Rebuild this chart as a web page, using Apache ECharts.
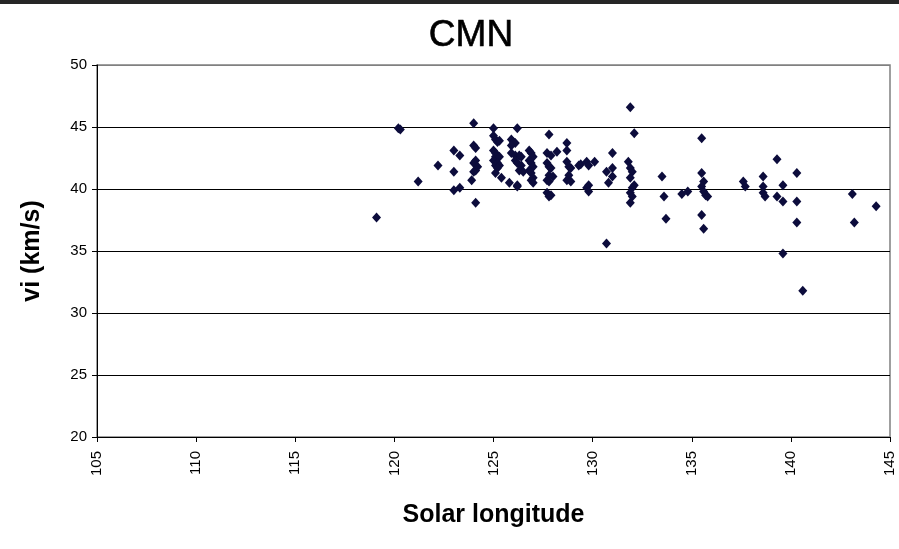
<!DOCTYPE html>
<html>
<head>
<meta charset="utf-8">
<script src="https://cdn.jsdelivr.net/npm/echarts@6/dist/echarts.min.js"></script>
<style>
html,body{margin:0;padding:0;background:#fff;}
#chart{width:899px;height:549px;}
</style>
</head>
<body>
<div id="chart"></div>
<script>
var titleText = "CMN";
var xAxisName = "Solar longitude";
var yAxisName = "vi (km/s)";
var xTicks = [105, 110, 115, 120, 125, 130, 135, 140, 145];
var yTicks = [20, 25, 30, 35, 40, 45, 50];

var solarLongitude = [
  119.1, 120.2, 120.3, 121.2, 122.2, 123.0, 123.3, 123.0, 123.0, 123.3,
  124.0, 124.0, 124.1, 124.1, 124.0, 124.2, 124.1, 124.0, 123.9, 124.1,
  125.0, 125.0, 125.1, 125.2, 125.3, 125.0, 125.1, 125.1, 125.3, 125.0,
  125.2, 125.1, 125.3, 125.2, 125.1, 125.4, 126.2, 125.9, 126.0, 126.1,
  125.9, 125.9, 126.1, 126.3, 126.4, 126.1, 126.2, 126.4, 126.3, 126.5,
  125.8, 126.2, 126.2, 126.8, 126.9, 127.0, 126.8, 126.9, 127.0, 126.8,
  126.9, 127.0, 126.9, 127.0, 127.8, 127.7, 127.9, 128.2, 127.7, 127.8,
  127.9, 127.8, 128.0, 127.7, 127.8, 127.7, 127.9, 127.8, 128.7, 128.7,
  128.7, 128.8, 128.9, 128.8, 128.7, 128.9, 129.3, 129.4, 129.7, 129.8,
  130.1, 129.8, 129.7, 129.8, 131.0, 130.7, 131.0, 131.0, 130.8, 130.7,
  131.9, 132.1, 131.8, 131.9, 132.0, 131.9, 132.1, 132.0, 131.9, 132.0,
  131.9, 133.5, 133.6, 133.7, 134.5, 134.8, 135.5, 135.5, 135.6, 135.5,
  135.6, 135.7, 135.8, 135.5, 135.6, 137.6, 137.7, 138.6, 138.6, 138.6,
  138.7, 139.3, 139.6, 139.3, 139.6, 139.6, 140.3, 140.3, 140.3, 140.6,
  143.1, 143.2, 144.3
];
var velocity = [
  37.7, 44.9, 44.8, 40.6, 41.9, 43.1, 42.7, 41.4, 39.9, 40.1,
  45.3, 43.5, 43.3, 42.3, 42.1, 41.8, 41.5, 41.4, 40.7, 38.9,
  44.9, 44.3, 44.0, 43.8, 43.9, 43.1, 42.9, 42.6, 42.6, 42.3,
  42.1, 41.9, 41.9, 41.7, 41.3, 40.9, 44.9, 44.0, 43.8, 43.7,
  43.5, 42.9, 42.7, 42.7, 42.6, 42.3, 42.1, 41.9, 41.5, 41.4,
  40.5, 40.3, 40.2, 43.1, 42.9, 42.6, 42.3, 42.1, 41.8, 41.5,
  41.3, 40.9, 40.7, 40.5, 44.4, 42.9, 42.7, 43.0, 42.1, 41.8,
  41.7, 41.1, 41.0, 40.7, 40.6, 39.7, 39.5, 39.4, 43.7, 43.1,
  42.2, 41.8, 41.7, 41.1, 40.7, 40.6, 41.9, 42.0, 42.2, 41.9,
  42.2, 40.3, 40.1, 39.8, 42.9, 41.4, 41.7, 41.0, 40.5, 35.6,
  46.6, 44.5, 42.2, 41.7, 41.4, 40.9, 40.3, 40.1, 39.7, 39.4,
  38.9, 41.0, 39.4, 37.6, 39.6, 39.8, 44.1, 41.3, 40.6, 40.2,
  39.8, 39.5, 39.4, 37.9, 36.8, 40.6, 40.2, 41.0, 40.2, 39.7,
  39.4, 42.4, 40.3, 39.4, 39.0, 34.8, 41.3, 39.0, 37.3, 31.8,
  39.6, 37.3, 38.6
];

var points = solarLongitude.map(function (x, i) { return [x, velocity[i]]; });

var chart = echarts.init(document.getElementById('chart'), null, {renderer: 'canvas'});
var font = 'Liberation Sans, Arial, sans-serif';
chart.setOption({
  animation: false,
  backgroundColor: '#ffffff',
  graphic: [{
    type: 'rect', left: 0, top: 0,
    shape: {width: 899, height: 4},
    style: {fill: '#262626'}
  }],
  title: {
    text: titleText, left: 466, top: 12, textAlign: 'center',
    textStyle: {fontFamily: font, fontSize: 37, fontWeight: 'normal', color: '#000', textBorderColor: '#000', textBorderWidth: 0.6}
  },
  grid: {
    left: 97, right: 9, top: 65, bottom: 112,
    show: true, borderColor: '#808080', borderWidth: 1.5, backgroundColor: '#fff'
  },
  xAxis: {
    type: 'value', min: 105, max: 145, interval: 5,
    name: xAxisName, nameLocation: 'middle', nameGap: 66,
    nameTextStyle: {fontFamily: font, fontSize: 25, fontWeight: 'bold', color: '#000'},
    axisLine: {show: true, lineStyle: {color: '#000', width: 1}},
    axisTick: {show: true, length: 5, lineStyle: {color: '#000'}},
    axisLabel: {
      rotate: 90, margin: 14, fontFamily: font, fontSize: 15, color: '#000',
      formatter: function (v) { return xTicks.indexOf(v) >= 0 ? String(v) : ''; }
    },
    splitLine: {show: false}
  },
  yAxis: {
    type: 'value', min: 20, max: 50, interval: 5,
    name: yAxisName, nameLocation: 'middle', nameGap: 52, nameRotate: 90,
    nameTextStyle: {fontFamily: font, fontSize: 25, fontWeight: 'bold', color: '#000'},
    axisLine: {show: true, lineStyle: {color: '#000', width: 1}},
    axisTick: {show: true, length: 5, lineStyle: {color: '#000'}},
    axisLabel: {
      margin: 10, fontFamily: font, fontSize: 15, color: '#000',
      formatter: function (v) { return yTicks.indexOf(v) >= 0 ? String(v) : ''; }
    },
    splitLine: {show: true, lineStyle: {color: ['#000', '#000', '#000', '#000', '#000', '#000', '#808080'], width: 1.2}}
  },
  series: [{
    type: 'scatter',
    data: points,
    symbol: 'diamond',
    symbolSize: [9, 10],
    itemStyle: {color: '#0c0c3c', opacity: 1}
  }]
});
</script>
</body>
</html>
